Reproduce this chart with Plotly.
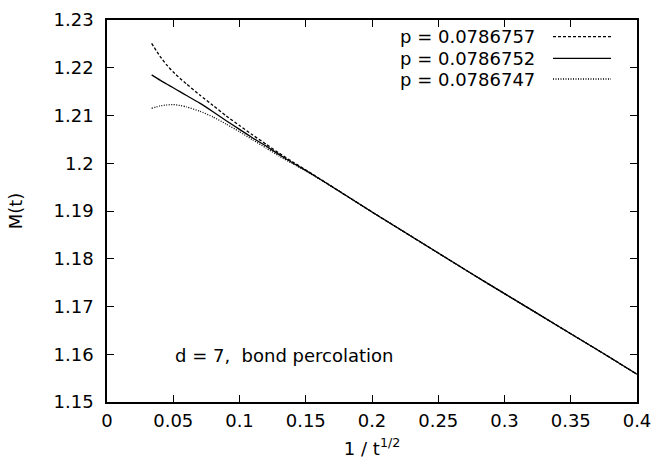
import plotly.graph_objects as go

# ---- data ----
x_vals = [0.0337, 0.04, 0.045, 0.05, 0.055, 0.06, 0.07, 0.08, 0.09, 0.10,
          0.11, 0.12, 0.13, 0.14, 0.15, 0.175, 0.2, 0.225, 0.25, 0.275,
          0.3, 0.325, 0.35, 0.375, 0.4]
common_tail = [1.1942, 1.1898, 1.1855, 1.1812, 1.1769, 1.1727, 1.1685,
               1.1643, 1.1601, 1.1558]
m_p757 = [1.2251, 1.2224, 1.2206, 1.2191, 1.2178, 1.2166, 1.2143, 1.2121,
          1.2099, 1.2079, 1.2059, 1.2040, 1.2021, 1.2003, 1.1986] + common_tail
m_p752 = [1.2185, 1.2174, 1.2166, 1.2158, 1.2150, 1.2142, 1.2126, 1.2108,
          1.2089, 1.2071, 1.2053, 1.2036, 1.2018, 1.2001, 1.1985] + common_tail
m_p747 = [1.2115, 1.2120, 1.2122, 1.2123, 1.2121, 1.2118, 1.2109, 1.2097,
          1.2082, 1.2066, 1.2049, 1.2032, 1.2015, 1.1999, 1.1984] + common_tail

series_labels = ["p = 0.0786757", "p = 0.0786752", "p = 0.0786747"]
series_values = [m_p757, m_p752, m_p747]
series_dash = ["3px,2px", "solid", "1px,1.5px"]

x_ticks = [0, 0.05, 0.1, 0.15, 0.2, 0.25, 0.3, 0.35, 0.4]
x_ticklabels = ["0", "0.05", "0.1", "0.15", "0.2", "0.25", "0.3", "0.35", "0.4"]
y_ticks = [1.15, 1.16, 1.17, 1.18, 1.19, 1.2, 1.21, 1.22, 1.23]
y_ticklabels = ["1.15", "1.16", "1.17", "1.18", "1.19", "1.2", "1.21", "1.22", "1.23"]

FONT = "DejaVu Sans, Liberation Sans, Arial, sans-serif"
FS = 18

fig = go.Figure()
for lab, vals, dash in zip(series_labels, series_values, series_dash):
    fig.add_trace(go.Scatter(x=x_vals, y=vals, mode="lines", name=lab,
                             line=dict(color="black", width=1.3, dash=dash,
                                       shape="spline", smoothing=0.5),
                             showlegend=False))

# manual gnuplot-style legend (text, then sample)
leg_y = [0.9563, 0.8997, 0.8455]
for lab, dash, yy in zip(series_labels, series_dash, leg_y):
    fig.add_annotation(x=0.8113, y=yy, xref="paper", yref="paper",
                       text=lab, showarrow=False, xanchor="right", yanchor="middle",
                       font=dict(family=FONT, size=FS, color="black"))
    fig.add_shape(type="line", xref="paper", yref="paper",
                  x0=0.8415, x1=0.951, y0=yy, y1=yy,
                  line=dict(color="black", width=1.3, dash=dash))

fig.add_annotation(x=0.1245, y=0.123, xref="paper", yref="paper",
                   text="d = 7,&nbsp; bond percolation", showarrow=False,
                   xanchor="left", yanchor="middle",
                   font=dict(family=FONT, size=FS, color="black"))

axis_common = dict(showline=True, linecolor="black", linewidth=1.5, mirror="ticks",
                   ticks="inside", ticklen=7, tickwidth=1.2, tickcolor="black",
                   showgrid=False, zeroline=False, automargin=False,
                   ticklabeloverflow="allow",
                   tickfont=dict(family=FONT, size=FS, color="black"))

fig.update_xaxes(range=[0, 0.4], tickvals=x_ticks, ticktext=x_ticklabels,
                 title=dict(text="1 / t<sup>1/2</sup>", standoff=12,
                            font=dict(family=FONT, size=FS, color="black")),
                 ticklabelstandoff=2, **axis_common)
fig.update_yaxes(range=[1.15, 1.23], tickvals=y_ticks, ticktext=y_ticklabels,
                 title=dict(text="M(t)", standoff=26,
                            font=dict(family=FONT, size=FS, color="black")),
                 ticklabelstandoff=8, **axis_common)

fig.update_layout(width=651, height=466,
                  margin=dict(l=107, r=14, t=20, b=64),
                  paper_bgcolor="white", plot_bgcolor="white",
                  font=dict(family=FONT, size=FS, color="black"))

fig.write_html("out.html", config={"displayModeBar": False},
               post_script="document.body.style.margin='0';")
